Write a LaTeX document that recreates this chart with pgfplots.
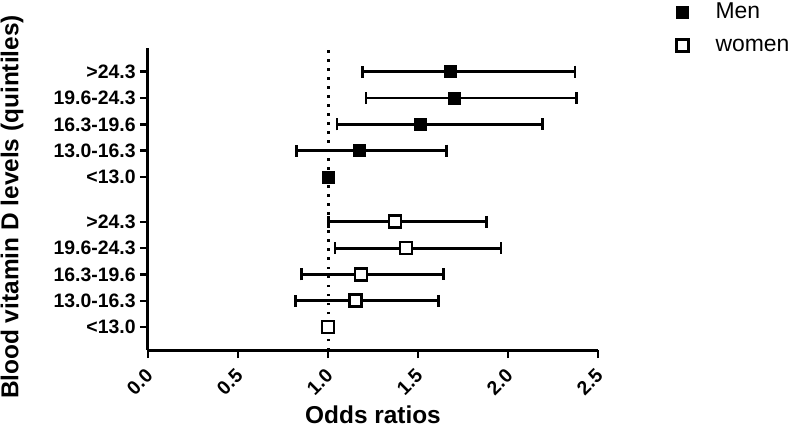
\documentclass[border=0pt]{standalone}
\usepackage{fontspec}
\setmainfont{Liberation Sans}
\usepackage{pgfplots}
\pgfplotsset{compat=1.18}
\usepackage{pgfplotstable}

\pgfplotstableread{
y or lo hi
10.7 1.681 1.191 2.372
9.7 1.702 1.211 2.381
8.7 1.511 1.050 2.190
7.7 1.172 0.826 1.659
6.7 1.000 1.000 1.000
}\men
\pgfplotstableread{
y or lo hi
5 1.372 1.002 1.881
4 1.433 1.039 1.961
3 1.183 0.854 1.641
2 1.154 0.818 1.613
1 1.000 1.000 1.000
}\women

\tikzset{
  ylab/.style={anchor=east, inner sep=0pt, font=\normalsize\bfseries, scale=1.95},
  xlab/.style={rotate=45, anchor=east, inner sep=0pt, font=\normalsize\bfseries, scale=1.95},
}
\begin{document}
\begin{tikzpicture}
\useasboundingbox (-148bp,-78bp) rectangle (644bp,350bp);
\begin{axis}[
  scale only axis, width=450bp, height=302bp,
  xmin=0, xmax=2.5, ymin=0.13, ymax=11.6,
  axis x line*=bottom, axis y line*=left,
  axis line style={line width=3bp, black},
  tick style={line width=2.5bp, black},
  major tick length=8bp, tick align=outside,
  xtick={0,0.5,1,1.5,2,2.5},
  ytick={1,2,3,4,5,6.7,7.7,8.7,9.7,10.7},
  xticklabels={}, yticklabels={},
  xlabel={Odds ratios},
  ylabel={Blood vitamin D levels (quintiles)},
  label style={font=\fontsize{24.5}{26}\selectfont\bfseries},
  xlabel style={at={(axis description cs:0.5,-0.245)}, anchor=base, inner sep=0pt},
  ylabel style={at={(axis description cs:-0.2878,0.4735)}, anchor=base, inner sep=0pt},
  clip=false,
  legend style={at={(axis description cs:1.174,1.159)}, anchor=north west, draw=none, fill=none,
    inner sep=0pt, font=\fontsize{23}{26}\selectfont, row sep=9.5bp,
    nodes={inner sep=2bp, text height=16bp, text depth=4bp},
    /tikz/every odd column/.append style={column sep=25bp}},
  legend cell align=left,
]
\addplot[only marks, mark=square*, mark size=6bp, black, mark options={fill=black, line width=0.4bp},
  error bars/.cd, x dir=both, x explicit,
  error bar style={line width=2.8bp, black},
  error mark options={rotate=90, line width=2.8bp, mark size=6bp, black}]
  table[x=or, y=y, x error plus expr=\thisrow{hi}-\thisrow{or}, x error minus expr=\thisrow{or}-\thisrow{lo}] {\men};
\addlegendentry{Men}
\addplot[only marks, mark=square*, mark size=6bp, black, mark options={fill=white, line width=2.7bp},
  error bars/.cd, x dir=both, x explicit,
  error bar style={line width=2.8bp, black},
  error mark options={rotate=90, line width=2.8bp, mark size=6bp, black}]
  table[x=or, y=y, x error plus expr=\thisrow{hi}-\thisrow{or}, x error minus expr=\thisrow{or}-\thisrow{lo}] {\women};
\addlegendentry{women}
\draw[line width=3bp, dash pattern=on 2.5bp off 6.5bp] (axis cs:1,0.13) -- (axis cs:1,11.6);
% y tick labels
\node[ylab] at ([xshift=-12bp]axis cs:0,10.7) {>24.3};
\node[ylab] at ([xshift=-12bp]axis cs:0,9.7) {19.6-24.3};
\node[ylab] at ([xshift=-12bp]axis cs:0,8.7) {16.3-19.6};
\node[ylab] at ([xshift=-12bp]axis cs:0,7.7) {13.0-16.3};
\node[ylab] at ([xshift=-12bp]axis cs:0,6.7) {<13.0};
\node[ylab] at ([xshift=-12bp]axis cs:0,5) {>24.3};
\node[ylab] at ([xshift=-12bp]axis cs:0,4) {19.6-24.3};
\node[ylab] at ([xshift=-12bp]axis cs:0,3) {16.3-19.6};
\node[ylab] at ([xshift=-12bp]axis cs:0,2) {13.0-16.3};
\node[ylab] at ([xshift=-12bp]axis cs:0,1) {<13.0};
% x tick labels
\node[xlab] at ([xshift=1.5bp,yshift=-22bp]axis cs:0,0.13) {0.0};
\node[xlab] at ([xshift=1.5bp,yshift=-22bp]axis cs:0.5,0.13) {0.5};
\node[xlab] at ([xshift=1.5bp,yshift=-22bp]axis cs:1,0.13) {1.0};
\node[xlab] at ([xshift=1.5bp,yshift=-22bp]axis cs:1.5,0.13) {1.5};
\node[xlab] at ([xshift=1.5bp,yshift=-22bp]axis cs:2,0.13) {2.0};
\node[xlab] at ([xshift=1.5bp,yshift=-22bp]axis cs:2.5,0.13) {2.5};
\end{axis}
\end{tikzpicture}
\end{document}
